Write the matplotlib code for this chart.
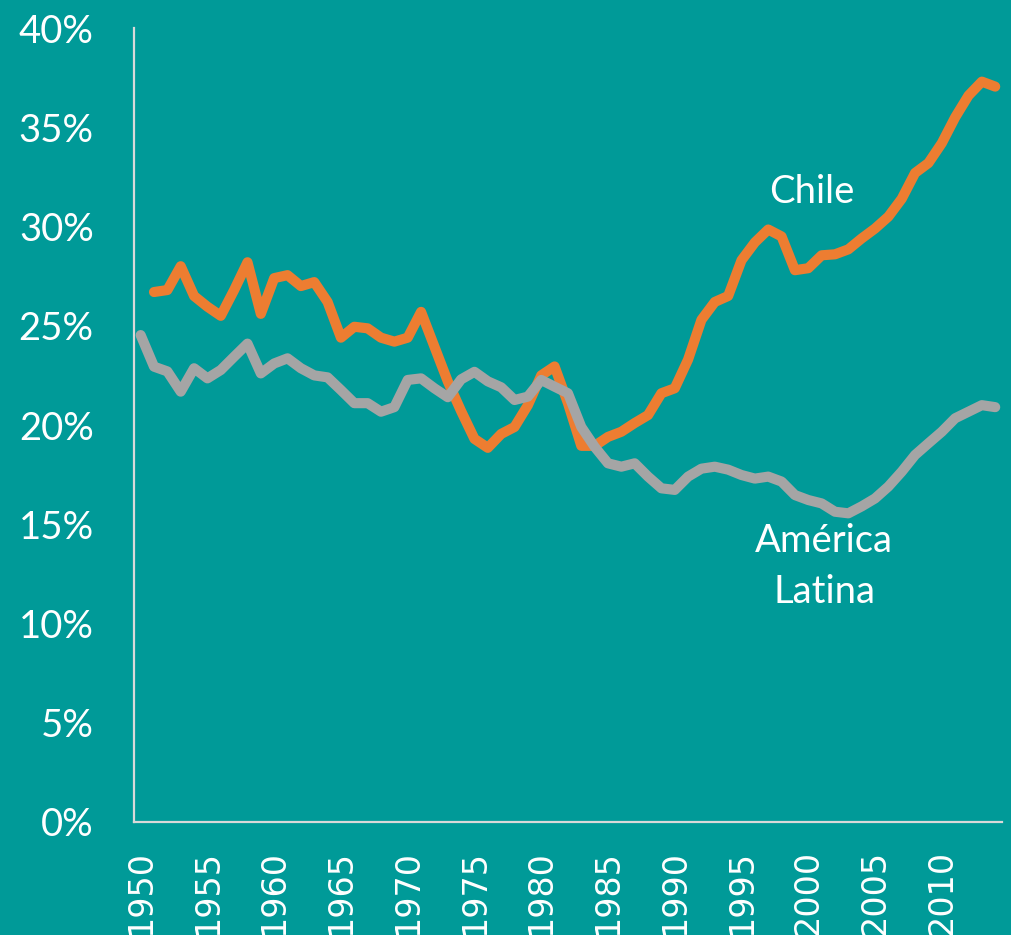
import matplotlib
matplotlib.use("Agg")
import matplotlib.pyplot as plt
from matplotlib.ticker import FuncFormatter

# ---- data ----
years_chile = list(range(1951, 2015))
chile = [26.7, 26.8, 28.0, 26.5, 25.96, 25.5, 26.8, 28.2, 25.6, 27.4,
         27.55, 27.0, 27.2, 26.2, 24.4, 24.95, 24.87, 24.4, 24.2, 24.4,
         25.7, 23.95, 22.2, 20.7, 19.3, 18.85, 19.55, 19.9, 21.0, 22.5,
         22.95, 21.1, 18.95, 18.95, 19.4, 19.66, 20.1, 20.5, 21.6, 21.85,
         23.3, 25.3, 26.2, 26.5, 28.3, 29.2, 29.85, 29.5, 27.8, 27.9,
         28.55, 28.6, 28.85, 29.4, 29.9, 30.5, 31.4, 32.7, 33.2, 34.2,
         35.5, 36.6, 37.3, 37.05]

years_al = list(range(1950, 2015))
america_latina = [24.53, 22.94, 22.7, 21.68, 22.86, 22.35, 22.77, 23.44, 24.1, 22.6,
                  23.1, 23.36, 22.86, 22.5, 22.4, 21.76, 21.1, 21.1, 20.67, 20.9,
                  22.27, 22.35, 21.85, 21.4, 22.3, 22.68, 22.2, 21.9, 21.26, 21.43,
                  22.27, 21.93, 21.6, 19.9, 18.9, 18.07, 17.9, 18.07, 17.4, 16.81,
                  16.73, 17.4, 17.8, 17.9, 17.75, 17.48, 17.3, 17.4, 17.15, 16.47,
                  16.22, 16.05, 15.63, 15.55, 15.9, 16.3, 16.9, 17.65, 18.49, 19.08,
                  19.66, 20.34, 20.67, 21.0, 20.9]

xtick_years = list(range(1950, 2015, 5))
yticks = [0, 5, 10, 15, 20, 25, 30, 35, 40]

# ---- style ----
BG = "#009A98"
ORANGE = "#ED7D31"
GRAY = "#A5A5A5"
SPINE = "#D9D9D9"

fig = plt.figure(figsize=(10.12, 9.35), dpi=100, facecolor=BG)
ax = fig.add_axes([0.1324, 0.1209, 0.8576, 0.8491])
ax.set_facecolor(BG)

ax.plot(years_chile, chile, color=ORANGE, lw=7.3,
        solid_capstyle="round", solid_joinstyle="round", zorder=3)
ax.plot(years_al, america_latina, color=GRAY, lw=7.3,
        solid_capstyle="round", solid_joinstyle="round", zorder=4)

ax.set_xlim(1949.5, 2014.5)
ax.set_ylim(0, 40)

ax.set_xticks(xtick_years)
ax.set_xticklabels([str(y) for y in xtick_years], rotation=90,
                   fontsize=24, color="white", family="DejaVu Sans", va="top")
ax.set_yticks(yticks)
ax.yaxis.set_major_formatter(FuncFormatter(lambda v, p: f"{int(v)}%"))
for lab in ax.get_yticklabels():
    lab.set_fontsize(27.5)
    lab.set_color("white")
    lab.set_family("Lato")

ax.tick_params(axis="x", length=0, pad=20)
ax.tick_params(axis="y", length=0, pad=29)

for s in ["top", "right"]:
    ax.spines[s].set_visible(False)
for s in ["left", "bottom"]:
    ax.spines[s].set_color(SPINE)
    ax.spines[s].set_linewidth(1.6)

ax.text(2000.3, 31.74, "Chile", color="white", fontsize=27.5, family="Lato",
        ha="center", va="center")
ax.text(2001.2, 14.16, "América", color="white", fontsize=27.5, family="Lato",
        ha="center", va="center")
ax.text(2001.2, 11.59, "Latina", color="white", fontsize=27.5, family="Lato",
        ha="center", va="center")

fig.savefig("out.png", dpi=100, facecolor=BG)
